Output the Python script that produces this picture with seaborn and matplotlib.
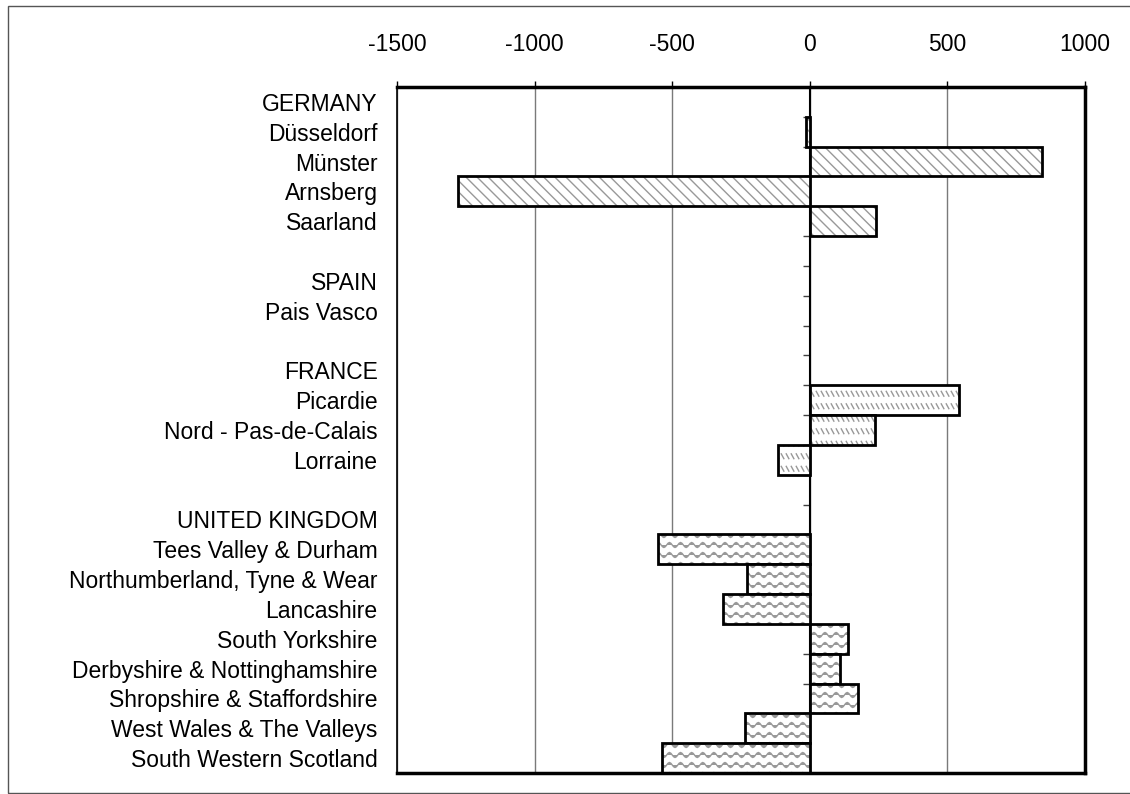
import numpy as np
import pandas as pd
import matplotlib
matplotlib.use("Agg")
import matplotlib.pyplot as plt
import matplotlib.hatch as mhatch
import matplotlib.colors as mcolors
from matplotlib.path import Path
from matplotlib.patches import Rectangle
import seaborn as sns

# row labels, top to bottom (blank rows are unique strings of spaces)
rows = ["GERMANY", "Düsseldorf", "Münster", "Arnsberg", "Saarland", " ",
        "SPAIN", "Pais Vasco", "  ",
        "FRANCE", "Picardie", "Nord - Pas-de-Calais", "Lorraine", "   ",
        "UNITED KINGDOM", "Tees Valley & Durham", "Northumberland, Tyne & Wear",
        "Lancashire", "South Yorkshire", "Derbyshire & Nottinghamshire",
        "Shropshire & Staffordshire", "West Wales & The Valleys",
        "South Western Scotland"]

regions = ["Düsseldorf", "Münster", "Arnsberg", "Saarland",
           "Pais Vasco",
           "Picardie", "Nord - Pas-de-Calais", "Lorraine",
           "Tees Valley & Durham", "Northumberland, Tyne & Wear", "Lancashire",
           "South Yorkshire", "Derbyshire & Nottinghamshire",
           "Shropshire & Staffordshire", "West Wales & The Valleys",
           "South Western Scotland"]
countries = ["Germany"] * 4 + ["Spain"] + ["France"] * 3 + ["United Kingdom"] * 8
values = [-15, 842, -1278, 239,
          np.nan,
          542, 237, -116,
          -553, -228, -314, 138, 110, 175, -236, -536]

x_ticks = [-1500, -1000, -500, 0, 500, 1000]


# -------------------------------
# extra hatch patterns: 'o' -> wavy lines, '.' -> short diagonal dashes
# -------------------------------
class WaveHatch(mhatch.HatchPatternBase):
    def __init__(self, hatch, density):
        self.rows = 10 if "o" in hatch else 0
        self.pts = 9 * 8 + 1
        self.num_vertices = self.rows * self.pts

    def set_vertices_and_codes(self, vertices, codes):
        x = np.linspace(0, 1, self.pts)
        for i in range(self.rows):
            seg = slice(i * self.pts, (i + 1) * self.pts)
            vertices[seg, 0] = x
            vertices[seg, 1] = (i + 0.5) / self.rows + 0.025 * np.sin(2 * np.pi * 9 * x)
            codes[seg] = Path.LINETO
            codes[i * self.pts] = Path.MOVETO


class DashHatch(mhatch.HatchPatternBase):
    def __init__(self, hatch, density):
        self.rows = 8 if "." in hatch else 0
        self.per_row = 20
        self.num_vertices = self.rows * self.per_row * 2

    def set_vertices_and_codes(self, vertices, codes):
        k = 0
        for i in range(self.rows):
            y0 = (i + 0.5) / self.rows
            for j in range(self.per_row):
                x0 = (j + 0.25) / self.per_row
                vertices[k] = (x0, y0 + 0.024)
                vertices[k + 1] = (x0 + 0.026, y0 - 0.024)
                codes[k] = Path.MOVETO
                codes[k + 1] = Path.LINETO
                k += 2


mhatch._hatch_types = [mhatch.SouthEastHatch, WaveHatch, DashHatch]

hatches = {"Germany": "\\\\\\", "Spain": "\\\\\\", "France": ".", "United Kingdom": "o"}
hatch_gray = "#999999"

# Style
sns.set_style("white")
plt.rcParams["font.family"] = ["Liberation Sans", "DejaVu Sans"]
plt.rcParams["axes.unicode_minus"] = False
plt.rcParams["hatch.linewidth"] = 1.0
plt.rcParams["text.color"] = "black"
plt.rcParams["xtick.color"] = "black"
plt.rcParams["ytick.color"] = "black"

df = pd.DataFrame({"region": regions, "country": countries, "value": values})
country_of = dict(zip(regions, countries))

fig = plt.figure(figsize=(11.3, 7.94), dpi=100)
ax = fig.add_axes([397 / 1130, 1 - 773 / 794, (1085 - 397) / 1130, (773 - 87) / 794])

sns.barplot(data=df, x="value", y="region", order=rows, orient="h",
            width=1, color="white", errorbar=None, ax=ax)

for p in ax.patches:
    idx = int(round(p.get_y() + p.get_height() / 2))
    p.set_facecolor("white")
    p.set_edgecolor("black")
    p.set_linewidth(2)
    p.set_hatch(hatches[country_of[rows[idx]]])
    p._hatch_color = mcolors.to_rgba(hatch_gray)
    p.set_zorder(2)

ax.set_xlim(-1500, 1000)
ax.set_ylim(len(rows) - 0.5, -0.5)
ax.set_xticks(x_ticks)
ax.set_xticklabels([str(t) for t in x_ticks])
ax.xaxis.tick_top()
ax.set_xlabel("")
ax.set_ylabel("")

ax.grid(axis="x", color="#7a7a7a", linewidth=1)
ax.grid(axis="y", visible=False)
ax.set_axisbelow(True)

ax.tick_params(axis="x", top=True, bottom=False, length=4, width=1,
               color="black", labelcolor="black", pad=18, labelsize=16.5)
ax.tick_params(axis="y", left=False, length=0, pad=14, labelsize=16.5,
               labelcolor="black")
for lab in ax.get_yticklabels():
    lab.set_horizontalalignment("right")

for side, lw in [("top", 2.5), ("bottom", 2.5), ("right", 2.5), ("left", 1.2)]:
    ax.spines[side].set_visible(True)
    ax.spines[side].set_color("black")
    ax.spines[side].set_linewidth(lw)

# zero line with row ticks (category axis crossing at 0)
sec = ax.secondary_yaxis((0 - x_ticks[0]) / (x_ticks[-1] - x_ticks[0]))
sec.set_alignment("left")
sec.set_yticks(np.arange(-0.5, len(rows), 1))
sec.tick_params(axis="y", length=5, width=1, color="#404040", labelleft=False)
sec.spines["left"].set_linewidth(1.5)
sec.spines["left"].set_color("black")
sec.set_zorder(0.7)

# outer frame
fig.add_artist(Rectangle((8 / 1130, 1 / 794), 1.2, 787 / 794,
                         transform=fig.transFigure, fill=False,
                         edgecolor="#555555", linewidth=1))

plt.savefig("out.png", dpi=100)
plt.close()
